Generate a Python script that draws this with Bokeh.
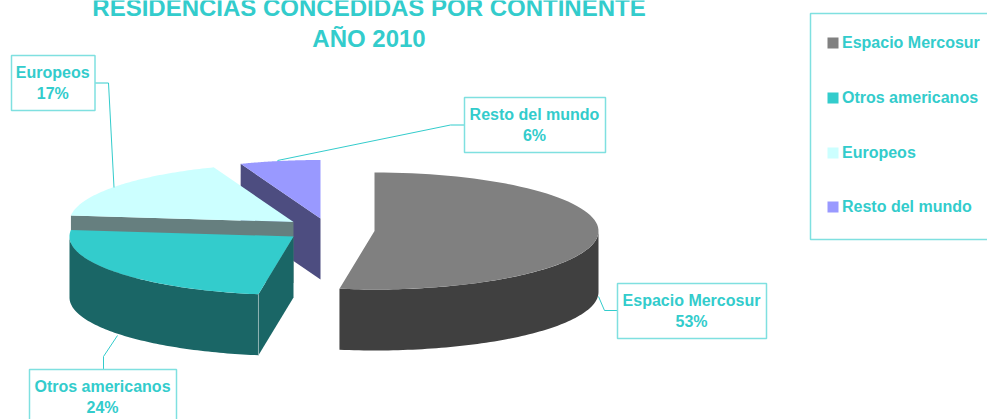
import numpy as np
from bokeh.core.properties import value
from bokeh.embed import file_html
from bokeh.models import Range1d
from bokeh.plotting import figure
from bokeh.resources import INLINE

# ---- data ----
title_lines = ["RESIDENCIAS CONCEDIDAS POR CONTINENTE", "AÑO 2010"]
categories = ["Espacio Mercosur", "Otros americanos", "Europeos", "Resto del mundo"]
shares = [52.5, 24.3, 17.4, 5.8]          # slice sizes
pct_labels = ["53%", "24%", "17%", "6%"]  # labels as printed
top_colors = ["#808080", "#33CCCC", "#CCFFFF", "#9999FF"]
side_colors = ["#404040", "#1A6666", "#667F7F", "#4D4D80"]

# ---- layout (pixel space of the page) ----
TEXT = "#33CCCC"
BOX = "#7FE0E0"
FONT = value("Liberation Sans")
RX, RY, DEPTH = 224, 58.5, 61
centers = [(374, 230.5), (293, 236), (293, 221.5), (320, 218)]
label_boxes = [(617, 766, 283, 338), (29, 176, 369, 425), (11, 94.5, 55, 110), (464, 605, 97, 152)]
leaders = [
    [(617, 310), (604, 310), (598, 296)],
    [(103, 369), (103, 356), (117, 335)],
    [(94.5, 82.5), (108, 82.5), (113.5, 187)],
    [(464, 124.5), (450, 124.5), (277, 160)],
]
legend_y = [42.5, 97.5, 152.5, 206.5]

p = figure(width=987, height=419, output_backend="svg", toolbar_location=None,
           x_range=Range1d(0, 987), y_range=Range1d(419, 0),
           min_border=0, outline_line_color=None, background_fill_color="white",
           border_fill_color="white", margin=(0, 0, 0, 0))
p.axis.visible = False
p.grid.visible = False


def rim(c, a0, a1, n=80):
    t = np.radians(np.linspace(a0, a1, n))
    return c[0] + RX * np.sin(t), c[1] - RY * np.cos(t)


ends = np.cumsum(shares) / sum(shares) * 360
starts = np.concatenate([[0], ends[:-1]])


def draw_top(i):
    x, y = rim(centers[i], starts[i], ends[i])
    p.patch(np.r_[centers[i][0], x], np.r_[centers[i][1], y], fill_color=top_colors[i], line_color=None)


def draw_cut(i, ang):
    x, y = rim(centers[i], ang, ang, 1)
    cx, cy = centers[i]
    p.patch([cx, x[0], x[0], cx], [cy, y[0], y[0] + DEPTH, cy + DEPTH],
            fill_color=side_colors[i], line_color=None)


def draw_wall(i):
    a0, a1 = max(starts[i], 90), min(ends[i], 270)
    x, y = rim(centers[i], a0, a1)
    p.patch(np.r_[x, x[::-1]], np.r_[y, (y + DEPTH)[::-1]], fill_color=side_colors[i], line_color=None)


# back to front: Resto, Mercosur, Europeos, Otros
draw_cut(3, starts[3])
draw_top(3)
draw_wall(0)
draw_top(0)
draw_cut(2, starts[2])
draw_top(2)
draw_cut(1, ends[0])
draw_wall(1)
draw_top(1)

# thin light edge between the two side faces of Otros americanos
ex, ey = rim(centers[1], starts[1], starts[1], 1)
p.line([ex[0], ex[0]], [ey[0], ey[0] + DEPTH], line_color="#8FB3B3", line_width=1)

# leaders and label boxes
for pts in leaders:
    p.line([q[0] for q in pts], [q[1] for q in pts], line_color=TEXT, line_width=1)
for i, (x0, x1, y0, y1) in enumerate(label_boxes):
    p.quad(left=x0, right=x1, top=y0, bottom=y1, fill_color="white", line_color=BOX, line_width=1.5)
    xc = (x0 + x1) / 2 - 0.5
    p.text([xc], [y0 + 17], text=[categories[i]], text_font=FONT, text_font_style="bold",
           text_font_size="16px", text_color=TEXT, text_align="center", text_baseline="middle")
    p.text([xc], [y0 + 38], text=[pct_labels[i]], text_font=FONT, text_font_style="bold",
           text_font_size="16px", text_color=TEXT, text_align="center", text_baseline="middle")

# title
p.text([368.5], [7], text=[title_lines[0]], text_font=FONT, text_font_style="bold", text_font_size="24px",
       text_color=TEXT, text_align="center", text_baseline="middle")
p.text([368.5], [38], text=[title_lines[1]], text_font=FONT, text_font_style="bold", text_font_size="24px",
       text_color=TEXT, text_align="center", text_baseline="middle")

# legend
p.quad(left=810, right=1000, top=13, bottom=239, fill_color="white", line_color=BOX, line_width=1.5)
for i, yc in enumerate(legend_y):
    p.quad(left=827, right=838, top=yc - 5.5, bottom=yc + 5.5, fill_color=top_colors[i], line_color=None)
    p.text([841.5], [yc - 1], text=[categories[i]], text_font=FONT, text_font_style="bold",
           text_font_size="16px", text_color=TEXT, text_align="left", text_baseline="middle")

open("out.html", "w").write(file_html(p, INLINE))
